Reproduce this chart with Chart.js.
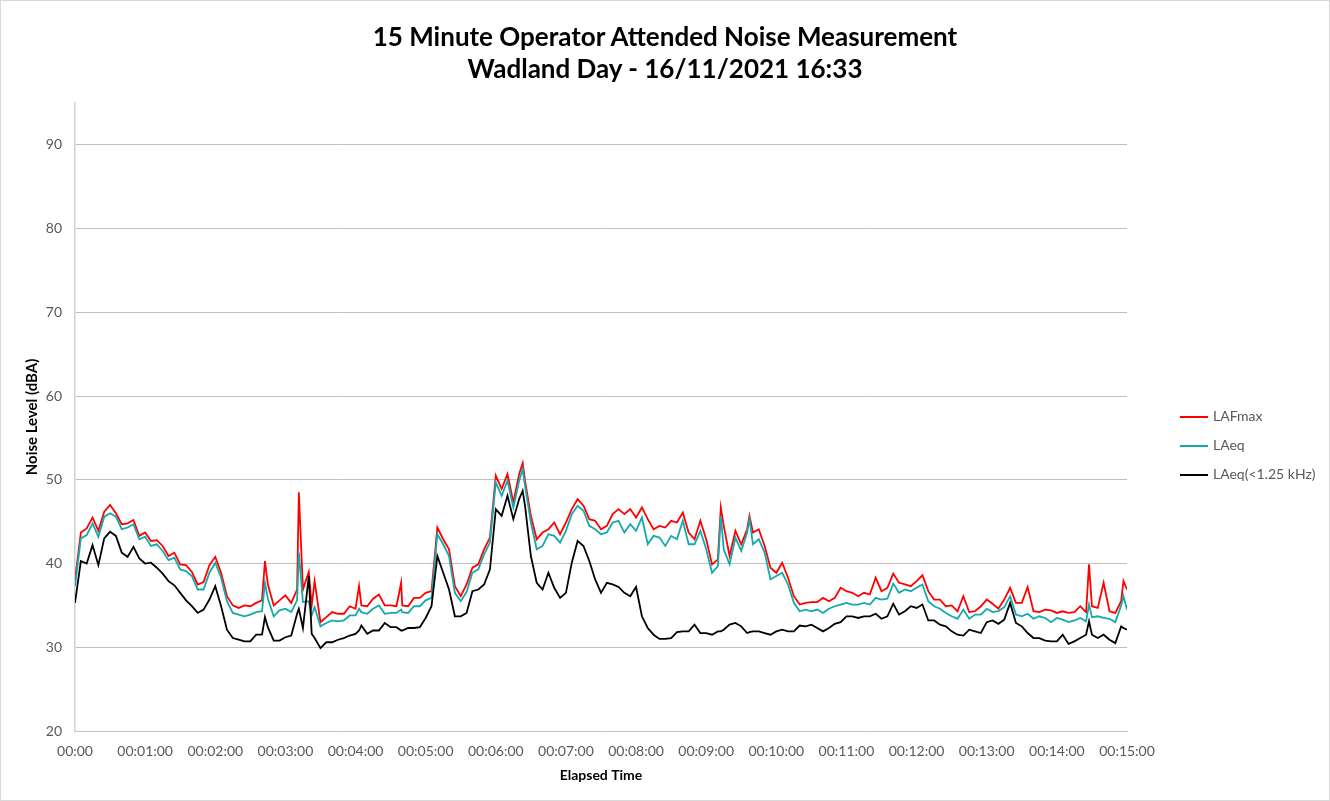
<!DOCTYPE html>
<html>
<head>
<meta charset="utf-8">
<script src="https://cdn.jsdelivr.net/npm/chart.js@4.4.0/dist/chart.umd.min.js"></script>
<style>
  html, body { margin:0; padding:0; background:#fff; }
  #wrap { position:relative; width:1330px; height:801px; font-family:Lato, "Open Sans", sans-serif; }
  #frame { position:absolute; left:0; top:0; width:1328px; height:799px; border:1px solid #d9d9d9; pointer-events:none; }
  #title { position:absolute; left:0; top:20px; width:1330px; text-align:center; font-weight:bold; font-size:26px; line-height:32px; color:#000; }
  .leg { position:absolute; left:1180px; height:20px; font-size:14px; color:#595959; }
  .leg span.ln { position:absolute; left:0; top:9px; width:28px; height:2px; }
  .leg span.tx { position:absolute; left:33px; top:0px; white-space:nowrap; }
</style>
</head>
<body>
<div id="wrap">
  <canvas id="chart" width="1330" height="801"></canvas>
  <div id="title">15 Minute Operator Attended Noise Measurement<br>Wadland Day - 16/11/2021 16:33</div>
  <div id="legend"></div>
  <div id="frame"></div>
</div>
<script>
/* ---------- data (seconds since start, dBA) ---------- */
const TIMES = [0,5,10,15,20,25,30,35,40,45,50,55,60,65,70,75,80,85,90,95,100,105,110,115,120,125,130,135,140,145,
  150,155,160,162.5,165,170,175,180,185,190,191.5,195,200,202.5,205,210,215,220,225,230,235,240,243,245,250,255,260,265,270,275,279,
  280,285,290,295,300,305,310,315,320,325,330,335,340,345,350,355,360,365,370,375,380,383,385,390,395,400,405,410,415,420,
  425,430,435,440,445,450,455,460,465,470,475,480,485,490,495,500,505,510,515,520,525,530,535,540,545,550,552.5,555,560,565,
  570,575,577,580,585,590,595,600,605,610,615,620,625,630,635,640,645,650,655,660,665,670,675,680,685,690,695,700,705,710,
  715,720,725,730,735,740,745,750,755,760,765,770,775,780,785,790,795,800,805,810,815,820,825,830,835,840,845,850,855,860,
  865,867.5,870,875,880,885,890,895,897,900];

const LAFMAX = [38.0,43.7,44.2,45.5,43.9,46.2,47.0,46.0,44.7,44.8,45.2,43.3,43.7,42.7,42.8,42.1,40.9,41.3,39.9,39.8,39.0,37.5,37.8,39.8,40.8,38.9,36.1,35.0,34.7,35.0,
  34.9,35.3,35.6,40.3,37.5,35.0,35.6,36.2,35.3,36.9,48.5,36.9,39.0,35.0,37.9,33.0,33.6,34.2,34.0,34.0,34.9,34.6,37.3,35.0,34.9,35.8,36.3,35.0,35.0,34.9,37.7,
  35.0,34.9,35.9,35.9,36.5,36.7,44.3,42.9,41.7,37.3,36.1,37.5,39.5,39.9,41.7,43.1,50.5,48.9,50.7,47.3,50.7,52.0,49.9,45.7,42.9,43.7,44.1,44.9,43.5,44.9,
  46.5,47.7,46.9,45.3,45.1,44.1,44.5,45.9,46.5,45.9,46.5,45.5,46.7,45.3,44.1,44.5,44.3,45.1,44.9,46.1,43.7,42.9,45.1,42.9,39.9,40.5,46.7,44.5,40.9,43.9,
  42.3,44.1,45.7,43.7,44.1,42.1,39.5,38.9,40.1,38.3,36.1,35.1,35.3,35.4,35.4,35.9,35.5,35.9,37.1,36.7,36.5,36.1,36.5,36.3,38.3,36.7,37.1,38.8,37.7,37.5,
  37.3,37.9,38.6,36.7,35.7,35.7,34.9,35.0,34.3,36.1,34.2,34.3,34.9,35.7,35.2,34.6,35.7,37.1,35.3,35.3,37.2,34.3,34.2,34.5,34.4,34.1,34.3,34.1,34.2,34.9,
  34.2,39.9,34.9,34.7,37.7,34.3,34.1,35.5,37.9,36.9];

const LAEQ = [37.3,43.0,43.4,44.8,43.2,45.6,46.0,45.6,44.1,44.3,44.7,42.9,43.2,42.1,42.3,41.5,40.4,40.7,39.3,39.1,38.5,36.9,36.9,38.9,40.1,38.3,35.5,34.1,33.9,33.7,
  33.9,34.2,34.3,37.7,35.8,33.7,34.4,34.6,34.2,35.6,41.3,35.4,35.5,33.8,34.8,32.5,32.9,33.2,33.1,33.2,33.8,33.8,34.6,34.2,34.0,34.6,35.0,34.0,34.1,34.1,34.5,
  34.2,34.1,34.9,34.9,35.6,35.9,43.5,42.3,40.9,36.5,35.5,36.6,38.9,39.3,41.1,42.5,49.7,48.1,49.9,46.7,49.9,51.3,49.3,44.9,41.7,42.1,43.5,43.3,42.5,43.9,
  45.9,46.9,46.3,44.5,44.1,43.5,43.7,44.9,45.1,43.7,44.7,43.9,45.5,42.3,43.3,43.1,42.1,43.3,42.9,45.1,42.3,42.3,43.9,41.7,38.9,39.7,45.7,41.7,39.9,43.1,
  41.5,43.7,45.3,42.3,42.9,41.3,38.1,38.5,38.9,37.5,35.3,34.3,34.5,34.3,34.5,34.1,34.6,34.9,35.1,35.3,35.1,35.1,35.3,35.1,35.9,35.7,35.8,37.6,36.5,36.9,
  36.7,37.1,37.5,35.5,34.9,34.6,34.1,33.7,33.4,34.5,33.4,33.9,33.9,34.6,34.2,34.3,34.8,36.1,33.9,33.7,34.0,33.4,33.7,33.5,33.0,33.5,33.3,33.0,33.2,33.5,
  33.1,35.1,33.6,33.7,33.5,33.4,33.0,35.0,36.1,34.5];

const LAEQ_LOW = [35.3,40.3,40.0,42.2,39.8,43.0,43.8,43.3,41.3,40.8,42.0,40.6,40.0,40.1,39.5,38.8,37.9,37.4,36.5,35.6,34.9,34.1,34.5,35.7,37.3,34.9,32.1,31.1,30.9,30.7,
  30.7,31.5,31.5,33.6,32.4,30.8,30.8,31.2,31.4,34.0,34.6,32.3,38.5,31.6,31.1,29.9,30.6,30.6,30.9,31.1,31.4,31.6,32.0,32.6,31.6,32.0,32.0,32.9,32.4,32.4,32.0,
  32.0,32.3,32.3,32.4,33.5,34.9,40.9,38.9,36.9,33.7,33.7,34.1,36.7,36.9,37.5,39.3,46.5,45.7,48.1,45.3,47.7,48.7,46.9,40.9,37.7,36.9,38.9,37.1,35.9,36.5,
  40.1,42.7,42.1,40.3,38.1,36.5,37.7,37.5,37.2,36.5,36.1,37.2,33.7,32.3,31.5,31.0,31.0,31.1,31.8,31.9,31.9,32.7,31.7,31.7,31.5,31.9,31.9,32.1,32.7,32.9,
  32.5,31.7,31.8,31.9,31.9,31.7,31.5,31.9,32.1,31.9,31.9,32.6,32.5,32.7,32.3,31.9,32.3,32.8,33.0,33.7,33.7,33.5,33.7,33.7,34.0,33.4,33.7,35.2,33.9,34.3,
  34.9,34.7,35.1,33.2,33.2,32.7,32.5,31.9,31.5,31.4,32.1,31.9,31.7,33.0,33.2,32.8,33.3,35.3,32.9,32.5,31.7,31.1,31.1,30.8,30.7,30.7,31.5,30.4,30.7,31.1,
  31.5,33.1,31.5,31.1,31.5,30.9,30.5,32.5,32.3,32.1];

const SERIES_NAMES = ['LAFmax', 'LAeq', 'LAeq(<1.25 kHz)'];
const SERIES_COLORS = ['#ff0000', '#14a9ab', '#000000'];
const Y_TICKS = [20, 30, 40, 50, 60, 70, 80, 90];

/* ---------- helpers ---------- */
const pad2 = n => String(n).padStart(2, '0');
const fmtTime = v => v === 0 ? '00:00' : `00:${pad2(Math.round(v / 60))}:00`;
const pts = arr => arr.map((y, i) => ({ x: TIMES[i], y }));

/* ---------- legend ---------- */
const legendTops = [407, 436, 465];
document.getElementById('legend').innerHTML = SERIES_NAMES.map((n, i) =>
  `<div class="leg" style="top:${legendTops[i]}px"><span class="ln" style="background:${SERIES_COLORS[i]}"></span><span class="tx">${n.replace('<', '&lt;')}</span></div>`
).join('');

/* ---------- chart ---------- */
Chart.defaults.font.family = 'Lato, "Open Sans", sans-serif';
Chart.defaults.color = '#595959';

new Chart(document.getElementById('chart'), {
  type: 'line',
  data: {
    datasets: [LAFMAX, LAEQ, LAEQ_LOW].map((arr, i) => ({
      label: SERIES_NAMES[i],
      data: pts(arr),
      borderColor: SERIES_COLORS[i],
      borderWidth: 1.8,
      pointRadius: 0,
      tension: 0,
      order: 3 - i
    }))
  },
  options: {
    responsive: false,
    animation: false,
    layout: { padding: { top: 103, right: 203, left: 0, bottom: 0 } },
    plugins: { legend: { display: false }, tooltip: { enabled: false } },
    scales: {
      x: {
        type: 'linear',
        min: 0, max: 900,
        grid: { display: false, drawTicks: false },
        border: { display: true, color: '#c0c0c0', width: 1 },
        ticks: { stepSize: 60, padding: 12, font: { size: 14 }, callback: v => fmtTime(v), maxRotation: 0, autoSkip: false },
        title: { display: true, text: 'Elapsed Time', color: '#000', font: { size: 14, weight: 'bold' }, padding: { top: 0, bottom: 17 } },
        afterFit: s => { s.height = 70; }
      },
      y: {
        min: 20, max: 95,
        grid: { color: '#c0c0c0', lineWidth: 1, drawTicks: false },
        border: { display: true, color: '#d0d0d0', width: 1.5 },
        ticks: { stepSize: 10, padding: 13, font: { size: 14 } },
        afterBuildTicks: s => { s.ticks = Y_TICKS.map(v => ({ value: v })); },
        title: { display: true, text: 'Noise Level (dBA)', color: '#000', font: { size: 15, weight: 'bold' }, padding: { top: 23, bottom: 0 } },
        afterFit: s => { s.width = 75; }
      }
    }
  }
});
</script>
</body>
</html>
